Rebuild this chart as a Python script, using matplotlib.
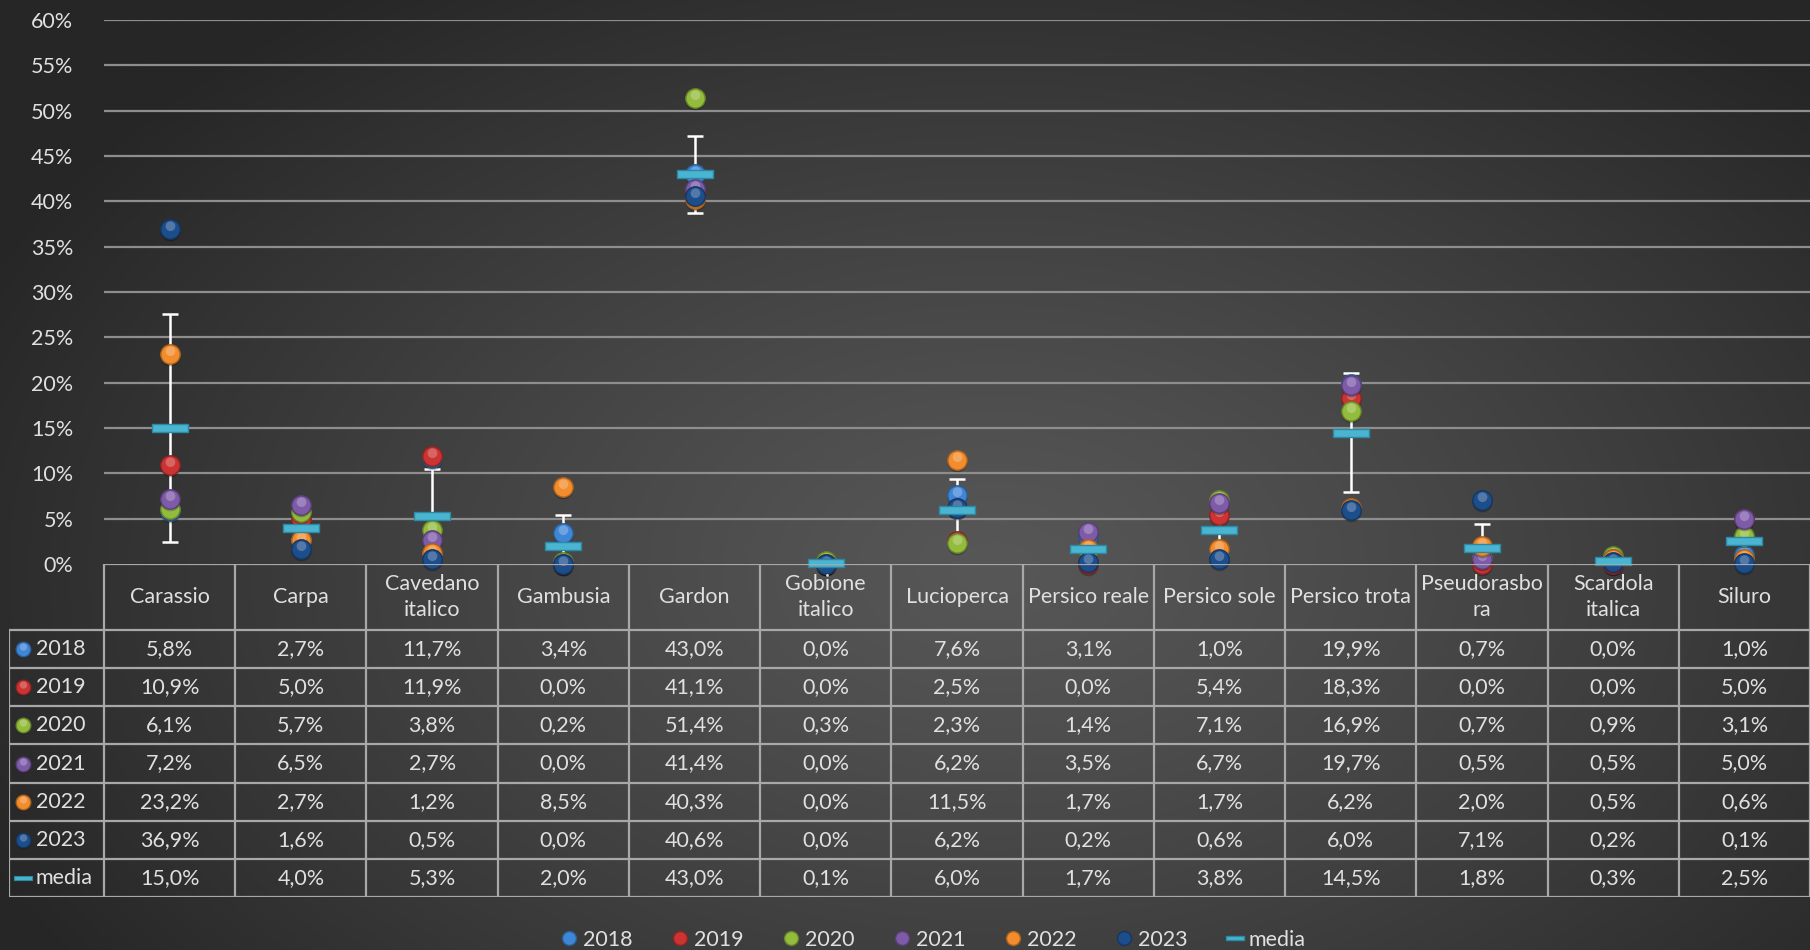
import numpy as np
import matplotlib
matplotlib.use("Agg")
import matplotlib.pyplot as plt
from matplotlib.colors import to_rgb
from matplotlib.lines import Line2D
from matplotlib.markers import MarkerStyle
from matplotlib.path import Path
from matplotlib.transforms import Affine2D

plt.rcParams["font.family"] = ["Lato", "DejaVu Sans"]

# species and yearly shares (%)
species = ["Carassio", "Carpa", "Cavedano\nitalico", "Gambusia", "Gardon",
           "Gobione\nitalico", "Lucioperca", "Persico reale", "Persico sole",
           "Persico trota", "Pseudorasbo\nra", "Scardola\nitalica", "Siluro"]
years = ["2018", "2019", "2020", "2021", "2022", "2023"]
v2018 = [5.8, 2.7, 11.7, 3.4, 43.0, 0.0, 7.6, 3.1, 1.0, 19.9, 0.7, 0.0, 1.0]
v2019 = [10.9, 5.0, 11.9, 0.0, 41.1, 0.0, 2.5, 0.0, 5.4, 18.3, 0.0, 0.0, 5.0]
v2020 = [6.1, 5.7, 3.8, 0.2, 51.4, 0.3, 2.3, 1.4, 7.1, 16.9, 0.7, 0.9, 3.1]
v2021 = [7.2, 6.5, 2.7, 0.0, 41.4, 0.0, 6.2, 3.5, 6.7, 19.7, 0.5, 0.5, 5.0]
v2022 = [23.2, 2.7, 1.2, 8.5, 40.3, 0.0, 11.5, 1.7, 1.7, 6.2, 2.0, 0.5, 0.6]
v2023 = [36.9, 1.6, 0.5, 0.0, 40.6, 0.0, 6.2, 0.2, 0.6, 6.0, 7.1, 0.2, 0.1]
media = [15.0, 4.0, 5.3, 2.0, 43.0, 0.1, 6.0, 1.7, 3.8, 14.5, 1.8, 0.3, 2.5]

series = [v2018, v2019, v2020, v2021, v2022, v2023]
colors = ["#3f86d6", "#cc3333", "#93bb3c", "#7e5ba8", "#f28c2c", "#1d4e8c"]
media_col = "#4bb4d0"
txt_col = "#e0e0e0"
line_col = "#a8a8a8"

W, H = 1810, 950
fig = plt.figure(figsize=(W / 100, H / 100), dpi=100)

# dark radial backdrop
bg = fig.add_axes([0, 0, 1, 1], zorder=-10)
yy, xx = np.mgrid[0:1:400j, 0:1:760j]
r = np.sqrt(((xx - 0.55) / 0.62) ** 2 + ((yy - 0.6) / 0.75) ** 2)
r = np.clip(r, 0, 1)
inner, outer = np.array(to_rgb("#575757")), np.array(to_rgb("#262626"))
img = inner + (outer - inner) * r[..., None] ** 1.2
bg.imshow(img, aspect="auto", extent=[0, 1, 0, 1], origin="upper")
bg.axis("off")


def px(x0, y0, x1, y1):
    return [x0 / W, 1 - y1 / H, (x1 - x0) / W, (y1 - y0) / H]


ax = fig.add_axes(px(104, 20, 1810, 564))
ax.set_facecolor("none")
x = np.arange(len(species))
ax.set_xlim(-0.5, len(species) - 0.5)
ax.set_ylim(0, 60)
ax.set_yticks(np.arange(0, 61, 5))
ax.set_yticklabels([f"{t}%" for t in range(0, 61, 5)], color=txt_col, fontsize=15.5)
ax.tick_params(axis="y", length=0, pad=22)
ax.set_xticks([])
for s in ax.spines.values():
    s.set_visible(False)
for t in range(5, 61, 5):
    ax.axhline(t, color="#8e8e8e", lw=1.6, zorder=1)


def lighter(c, f):
    c = np.array(to_rgb(c))
    return tuple(c + (1 - c) * f)


def darker(c, f):
    return tuple(np.array(to_rgb(c)) * (1 - f))


hl = MarkerStyle("o", transform=Affine2D().scale(0.5).translate(0, 0.17))
shadow = MarkerStyle("o", transform=Affine2D().translate(0, -0.08))


def balls(a, xs, ys, c, s, z, **kw):
    a.scatter(xs, ys, s=s * 1.1, marker=shadow, color="black", alpha=0.25,
              lw=0, zorder=z, clip_on=False, **kw)
    a.scatter(xs, ys, s=s, marker="o", color=c, edgecolors=darker(c, 0.3),
              lw=1, zorder=z + 0.1, clip_on=False, **kw)
    a.scatter(xs, ys, s=s, marker=hl, color=lighter(c, 0.45), alpha=0.55,
              lw=0, zorder=z + 0.2, clip_on=False, **kw)


# sample standard deviation across years
vals = np.array(series)
sd = vals.std(axis=0, ddof=1)
ax.errorbar(x, media, yerr=sd, fmt="none", ecolor="white", elinewidth=1.8,
            capsize=6, capthick=1.8, zorder=2, clip_on=True)

for i, (vals_y, c) in enumerate(zip(series, colors)):
    balls(ax, x, vals_y, c, 195, 3 + i)

bar = Path([(-1, -0.22), (1, -0.22), (1, 0.22), (-1, 0.22), (-1, -0.22)],
           [Path.MOVETO, Path.LINETO, Path.LINETO, Path.LINETO, Path.CLOSEPOLY])
ax.scatter(x, media, s=700, marker=bar, color=media_col,
           edgecolors="#2a8aa6", lw=1, zorder=20, clip_on=False)

# data table under the plot
lblw = 95 / ((1810 - 104) / len(species))
hdr = 66 / 38.1
nrow = len(years) + 1
tab = fig.add_axes(px(9, 564, 1810, 897))
tab.set_facecolor("none")
tab.set_xlim(-0.5 - lblw, len(species) - 0.5)
tab.set_ylim(hdr + nrow, 0)
tab.axis("off")

lkw = dict(color=line_col, lw=1.6, solid_capstyle="butt")
tab.plot([-0.5, len(species) - 0.5], [0, 0], **lkw)
for i in range(nrow + 1):
    tab.plot([-0.5 - lblw, len(species) - 0.5], [hdr + i] * 2, **lkw)
for j in range(len(species) + 1):
    tab.plot([j - 0.5] * 2, [0, hdr + nrow], **lkw)
tab.plot([-0.5 - lblw] * 2, [hdr, hdr + nrow], **lkw)

for j, name in enumerate(species):
    tab.text(j, hdr / 2, name, ha="center", va="center", color=txt_col,
             fontsize=15.5, linespacing=1.35)

rows = series + [media]
labels = years + ["media"]
for i, (lab, row) in enumerate(zip(labels, rows)):
    yc = hdr + i + 0.5
    lx = -0.5 - lblw
    if i < len(years):
        balls(tab, [lx + 0.107], [yc], colors[i], 110, 3)
    else:
        tab.scatter([lx + 0.107], [yc], s=170, marker=bar, color=media_col,
                    edgecolors="#2a8aa6", lw=0.8, zorder=3)
    tab.text(lx + 0.205, yc, lab, ha="left", va="center", color=txt_col,
             fontsize=15.5)
    for j, v in enumerate(row):
        tab.text(j, yc, f"{v:.1f}%".replace(".", ","), ha="center",
                 va="center", color=txt_col, fontsize=15.5)

# legend along the bottom
handles = []
for y_, c in zip(years, colors):
    handles.append(Line2D([], [], ls="none", marker="o", markersize=10,
                          markerfacecolor=c, markeredgecolor=darker(c, 0.3),
                          label=y_))
handles.append(Line2D([], [], ls="none", marker=bar, markersize=13,
                      markerfacecolor=media_col, markeredgecolor="#2a8aa6",
                      label="media"))
fig.legend(handles=handles, loc="center", ncol=7, frameon=False,
           bbox_to_anchor=(932 / W, 1 - 940 / H), fontsize=15.5,
           labelcolor=txt_col, handletextpad=0.15, columnspacing=1.7,
           handlelength=1.0)

fig.savefig("out.png", dpi=100)
